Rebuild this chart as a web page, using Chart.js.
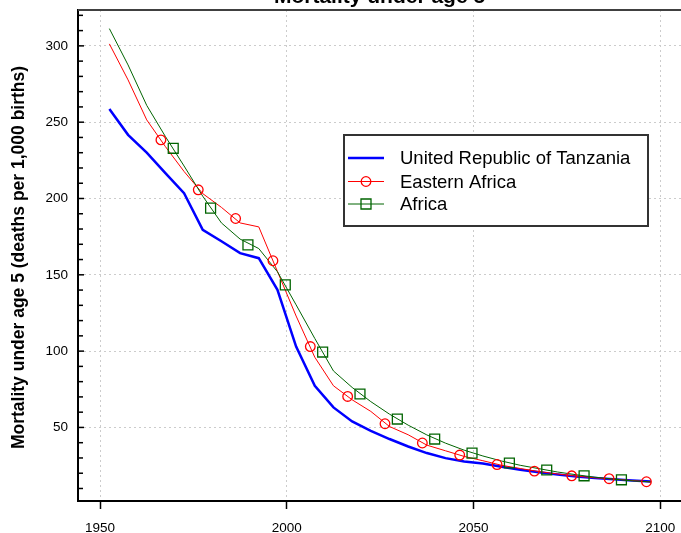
<!DOCTYPE html>
<html>
<head>
<meta charset="utf-8">
<script src="https://cdn.jsdelivr.net/npm/chart.js@4.4.1/dist/chart.umd.min.js"></script>
<style>
  html, body { margin: 0; padding: 0; background: #fff; overflow: hidden; }
  #wrap { width: 681px; height: 533px; position: relative; }
</style>
</head>
<body>
<div id="wrap"><canvas id="u5mr"></canvas></div>
<script>
// Mortality under age 5 (deaths per 1,000 births), 5-year period midpoints
var years = [1952.5, 1957.5, 1962.5, 1967.5, 1972.5, 1977.5, 1982.5, 1987.5, 1992.5, 1997.5,
             2002.5, 2007.5, 2012.5, 2017.5, 2022.5, 2027.5, 2032.5, 2037.5, 2042.5, 2047.5,
             2052.5, 2057.5, 2062.5, 2067.5, 2072.5, 2077.5, 2082.5, 2087.5, 2092.5, 2097.5];
var tanzania = [258.7, 241.7, 230, 216.6, 203.5, 179.5, 172, 164.2, 160.9, 140.2,
                103, 77.3, 63.1, 53.9, 47.8, 42.4, 37.5, 33.2, 29.9, 27.7,
                26.3, 24.3, 22.3, 20.6, 19.1, 17.8, 16.8, 16, 15.2, 14.6];
var easternAfrica = [301.3, 277.7, 251.5, 234, 217.7, 203.2, 194.2, 184, 181.4, 152.2,
                     123, 96, 77.3, 68.1, 60.5, 50.6, 45.2, 38.4, 34.7, 31,
                     28.2, 25.2, 23.1, 21.1, 19.5, 18.1, 17, 16.2, 15.2, 14.3];
var africa = [311.3, 287.5, 261, 240.6, 221.3, 201.5, 184, 173.4, 167.2, 152,
              130.3, 108.3, 87, 76.2, 66.9, 58.7, 51.5, 45.1, 39.7, 35.1,
              31.3, 28, 25.2, 23, 20.8, 19, 17.4, 16.1, 15, 14.3];

// marker positions along the lines
var eaMarkYears = [1966.3, 1976.3, 1986.3, 1996.3, 2006.3, 2016.3, 2026.3, 2036.3, 2046.3, 2056.3, 2066.3, 2076.3, 2086.3, 2096.3];
var eaMarkValues = [238.4, 205.7, 186.9, 159.2, 103, 70.3, 52.4, 39.8, 31.9, 25.7, 21.4, 18.3, 16.4, 14.4];
var afMarkYears = [1969.6, 1979.6, 1989.6, 1999.6, 2009.6, 2019.6, 2029.6, 2039.6, 2049.6, 2059.6, 2069.6, 2079.6, 2089.6];
var afMarkValues = [232.9, 193.7, 169.6, 143.4, 99.4, 71.9, 55.5, 42.4, 33.2, 26.7, 22.1, 18.3, 15.7];

var seriesNames = ['United Republic of Tanzania', 'Eastern Africa', 'Africa'];
var xTicks = [1950, 2000, 2050, 2100];
var yTicks = [10, 20, 30, 40, 50, 60, 70, 80, 90, 100, 110, 120, 130, 140, 150, 160,
              170, 180, 190, 200, 210, 220, 230, 240, 250, 260, 270, 280, 290, 300, 310, 320];

var FONT = "'Liberation Sans', Arial, sans-serif";
var BLUE = '#0000ff', RED = '#ff0000', GREEN = '#006400';

function pts(xs, ys) {
    return xs.map(function(x, i){ return {x: x, y: ys[i]}; });
}

function drawMarker(ctx, kind, x, y, color) {
    ctx.strokeStyle = color;
    ctx.lineWidth = 1.3;
    ctx.beginPath();
    if (kind === 'circle') ctx.arc(x, y, 4.8, 0, Math.PI * 2);
    else ctx.rect(x - 5, y - 5, 10, 10);
    ctx.stroke();
}

var decorations = {
    id: 'decorations',
    afterDraw: function(chart) {
        var ctx = chart.ctx, area = chart.chartArea, ys = chart.scales.y;
        ctx.save();

        // top frame line
        ctx.strokeStyle = '#404040';
        ctx.lineWidth = 2;
        ctx.beginPath();
        ctx.moveTo(area.left, area.top);
        ctx.lineTo(area.right, area.top);
        ctx.stroke();

        // y ticks pointing inward
        ctx.strokeStyle = '#000';
        ctx.lineWidth = 1.5;
        ys.ticks.forEach(function(t){
            var py = ys.getPixelForValue(t.value);
            ctx.beginPath();
            ctx.moveTo(area.left, py);
            ctx.lineTo(area.left + (t.value % 50 === 0 ? 6 : 5), py);
            ctx.stroke();
        });

        // main title, cut off at the top
        ctx.fillStyle = '#000';
        ctx.font = 'bold 21px ' + FONT;
        ctx.textAlign = 'center';
        ctx.textBaseline = 'alphabetic';
        ctx.fillText('Mortality under age 5', (area.left + area.right) / 2, 3);

        // y axis title
        ctx.save();
        ctx.translate(19, (area.top + area.bottom) / 2 + 2);
        ctx.rotate(-Math.PI / 2);
        ctx.font = 'bold 17.5px ' + FONT;
        ctx.textBaseline = 'middle';
        ctx.fillText('Mortality under age 5 (deaths per 1,000 births)', 0, 0);
        ctx.restore();

        // legend
        var lx = 344, ly = 135, lw = 304, lh = 91;
        ctx.fillStyle = '#fff';
        ctx.fillRect(lx, ly, lw, lh);
        ctx.strokeStyle = '#333';
        ctx.lineWidth = 2;
        ctx.strokeRect(lx, ly, lw, lh);
        var rows = [
            {name: seriesNames[0], color: BLUE, width: 2.5, marker: null},
            {name: seriesNames[1], color: RED, width: 1, marker: 'circle'},
            {name: seriesNames[2], color: GREEN, width: 1, marker: 'rect'}
        ];
        var rowY = [158, 181.5, 204];
        ctx.font = '18.5px ' + FONT;
        ctx.textAlign = 'left';
        ctx.textBaseline = 'middle';
        rows.forEach(function(r, i){
            var yy = rowY[i];
            ctx.strokeStyle = r.color;
            ctx.lineWidth = r.width;
            ctx.beginPath();
            ctx.moveTo(348, yy);
            ctx.lineTo(384, yy);
            ctx.stroke();
            if (r.marker) drawMarker(ctx, r.marker, 366, yy, r.color);
            ctx.fillStyle = '#000';
            ctx.fillText(r.name, 400, yy + 1);
        });

        ctx.restore();
    }
};

var ctx = document.getElementById('u5mr');

var chartData = {
    datasets: [
        { label: seriesNames[2], data: pts(years, africa), borderColor: GREEN, borderWidth: 1,
          pointRadius: 0, order: 1 },
        { label: seriesNames[1], data: pts(years, easternAfrica), borderColor: RED, borderWidth: 1,
          pointRadius: 0, order: 2 },
        { label: seriesNames[0], data: pts(years, tanzania), borderColor: BLUE, borderWidth: 2.5,
          pointRadius: 0, order: 3 },
        { label: seriesNames[1] + ' markers', data: pts(eaMarkYears, eaMarkValues), showLine: false,
          pointStyle: 'circle', pointRadius: 4.8, pointBorderWidth: 1.3,
          pointBorderColor: RED, pointBackgroundColor: 'rgba(0,0,0,0)', order: 0 },
        { label: seriesNames[2] + ' markers', data: pts(afMarkYears, afMarkValues), showLine: false,
          pointStyle: 'rect', pointRadius: 7, pointBorderWidth: 1.3,
          pointBorderColor: GREEN, pointBackgroundColor: 'rgba(0,0,0,0)', order: 0 }
    ]
};

var chartOptions = {
    responsive: true,
    maintainAspectRatio: false,
    animation: false,
    layout: { autoPadding: false, padding: { top: 10, right: 0, left: 0, bottom: 0 } },
    plugins: { legend: { display: false }, tooltip: { enabled: false }, title: { display: false } },
    scales: {
        x: {
            type: 'linear',
            min: 1944.1,
            max: 2105.55,
            afterBuildTicks: function(scale){ scale.ticks = xTicks.map(function(v){ return {value: v}; }); },
            afterFit: function(scale){
                scale.height = 32;
                scale.paddingLeft = 0; scale.paddingRight = 0;
            },
            ticks: {
                autoSkip: false, maxRotation: 0, padding: 11, color: '#000',
                font: { family: FONT, size: 13.5 },
                callback: function(v){ return String(v); }
            },
            grid: { color: '#cccccc', lineWidth: 1, tickColor: '#000', tickLength: 8, tickWidth: 1.5,
                    tickBorderDash: [] },
            border: { display: true, color: '#000', width: 2, dash: [2, 3] }
        },
        y: {
            min: 1.8,
            max: 323.5,
            afterBuildTicks: function(scale){ scale.ticks = yTicks.map(function(v){ return {value: v}; }); },
            afterFit: function(scale){
                scale.width = 78;
                scale.paddingTop = 0; scale.paddingBottom = 0;
            },
            ticks: {
                autoSkip: false, padding: 10, color: '#000',
                font: { family: FONT, size: 13.5 },
                callback: function(v){ return v % 50 === 0 ? String(v) : ''; }
            },
            grid: {
                drawTicks: false,
                lineWidth: 1,
                color: function(c){ return c.tick && c.tick.value % 50 === 0 ? '#cccccc' : 'rgba(0,0,0,0)'; }
            },
            border: { display: true, color: '#000', width: 2, dash: [2, 3] }
        }
    }
};

var config = {
    type: 'line',
    data: chartData,
    options: chartOptions,
    plugins: [decorations]
};

var u5mrChart = new Chart(ctx, config);
</script>
</body>
</html>
